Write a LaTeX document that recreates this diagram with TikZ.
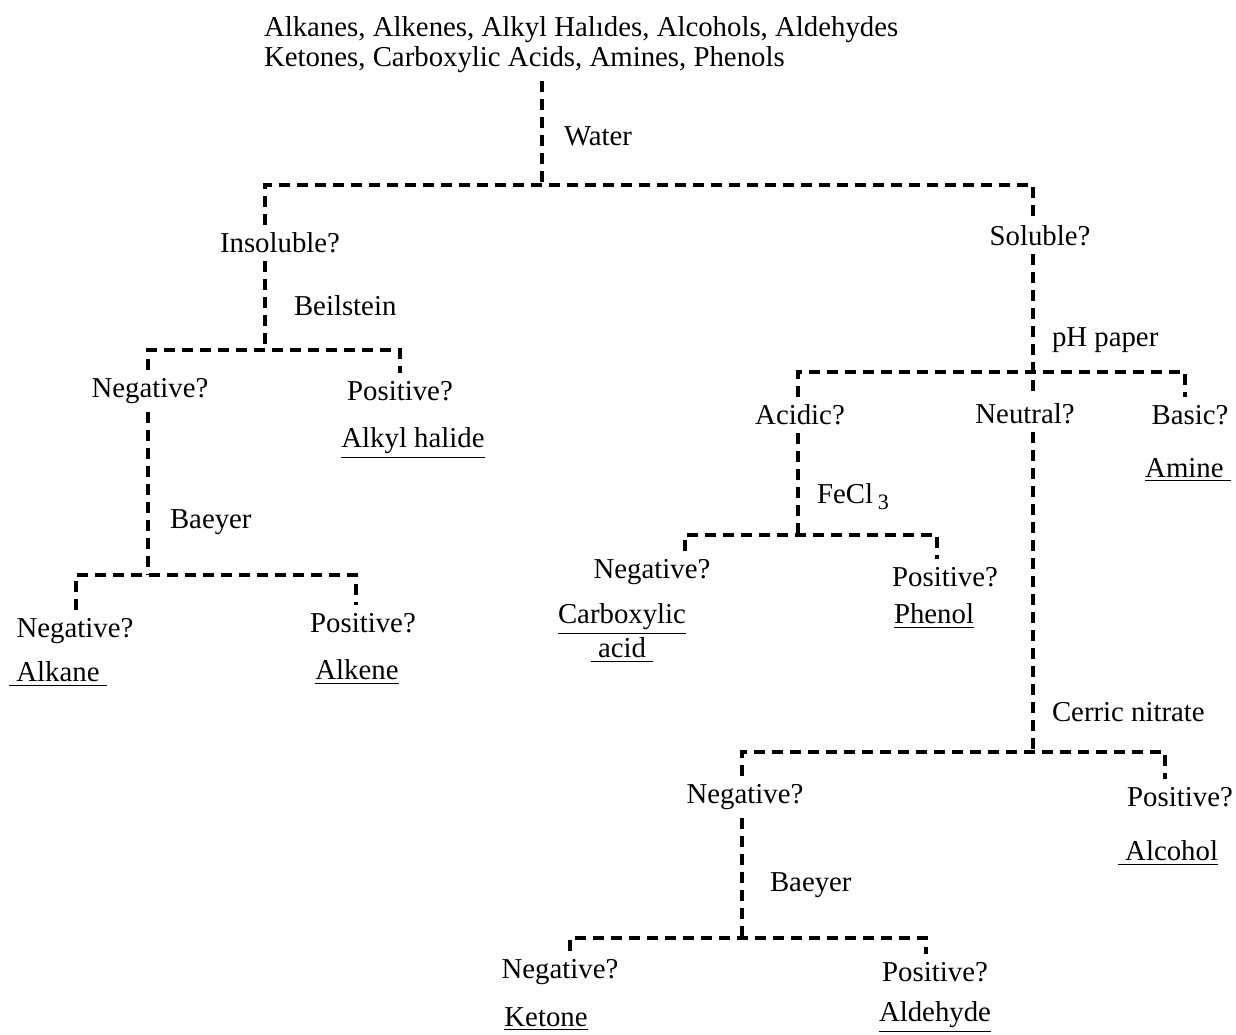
\documentclass[tikz,border=0pt]{standalone}
\usepackage{fontspec}
\setmainfont{Liberation Serif}
\usepackage{tikz}

\tikzset{
  dl/.style={line width=1.6pt, dash pattern=on 5.5pt off 3.5pt},
  lbl/.style={font=\fontsize{14.4}{15}\selectfont, inner sep=0pt, outer sep=4pt},
  test/.style={lbl, anchor=west},
}

\begin{document}
\begin{tikzpicture}[x=0.5pt,y=0.5pt]
\useasboundingbox (0,0) rectangle (1236,-1034);
% starting mixture
\node[lbl, anchor=north west, align=left] (mix) at (256,-9)
  {Alkanes, Alkenes, Alkyl Halıdes, Alcohols, Aldehydes\\Ketones, Carboxylic Acids, Amines, Phenols};
% junctions
\coordinate (w) at (542,-185);   \coordinate (wl) at (265,-185);  \coordinate (wr) at (1033,-185);
\coordinate (b) at (265,-350);   \coordinate (bl) at (148,-350);  \coordinate (br) at (400,-350);
\coordinate (y1) at (148,-575);  \coordinate (y1l) at (76,-575);  \coordinate (y1r) at (356,-575);
\coordinate (p) at (1033,-372);  \coordinate (pl) at (798,-372);  \coordinate (pr) at (1185,-372);
\coordinate (f) at (798,-535);   \coordinate (fl) at (685,-535);  \coordinate (fr) at (937,-535);
\coordinate (c) at (1033,-752);  \coordinate (cl) at (742,-752);  \coordinate (cr) at (1165,-752);
\coordinate (y2) at (742,-938);  \coordinate (y2l) at (570,-938); \coordinate (y2r) at (926,-938);

% tests
\node[test] (water) at (556,-136) {Water};
\node[test] (beil) at (286,-306) {Beilstein};
\node[test] (baey1) at (162,-522) {Baeyer};
\node[test] (ph) at (1044,-340) {pH paper};
\node[test] (fecl) at (809,-497) {FeCl\,\raisebox{-0.45ex}{\fontsize{11}{12}\selectfont 3}};
\node[test] (cer) at (1044,-712) {Cerric nitrate};
\node[test] (baey2) at (762,-885) {Baeyer};

% outcomes
\node[lbl] (insol) at (280,-243) {Insoluble?};
\node[lbl] (sol) at (1040,-236) {Soluble?};
\node[lbl] (neg1) at (150,-391) {Negative?};
\node[lbl] (pos1) at (400,-391) {Positive?};
\node[lbl] (halide) at (413,-443) {\underline{Alkyl halide}};
\node[lbl] (neg2) at (75,-631) {Negative?};
\node[lbl] (pos2) at (363,-623) {Positive?};
\node[lbl] (alkane) at (58,-674) {\underline{\ Alkane\ }};
\node[lbl] (alkene) at (357,-672) {\underline{Alkene}};
\node[lbl] (acidic) at (800,-415) {Acidic?};
\node[lbl] (neut) at (1025,-414) {Neutral?};
\node[lbl] (basic) at (1190,-415) {Basic?};
\node[lbl] (amine) at (1188,-470) {\underline{Amine\ }};
\node[lbl] (neg3) at (652,-572) {Negative?};
\node[lbl] (pos3) at (945,-577) {Positive?};
\node[lbl] (carb) at (622,-619) {\underline{Carboxylic}};
\node[lbl] (acid) at (622,-650) {\underline{\ acid\ }};
\node[lbl] (phenol) at (934,-616) {\underline{Phenol}};
\node[lbl] (neg4) at (745,-797) {Negative?};
\node[lbl] (pos4) at (1180,-797) {Positive?};
\node[lbl] (alcohol) at (1168,-853) {\underline{\ Alcohol}};
\node[lbl] (neg5) at (560,-972) {Negative?};
\node[lbl] (pos5) at (935,-972) {Positive?};
\node[lbl] (ketone) at (546,-1019) {\underline{Ketone}};
\node[lbl] (aldehyde) at (935,-1017) {\underline{Aldehyde}};

% dashed tree
\draw[dl] (mix.south -| w) -- (w);
\draw[dl] (insol.north -| wl) -- (wl) -- (wr) -- (sol.north -| wr);
\draw[dl] (insol.south -| b) -- (b);
\draw[dl] (neg1.north -| bl) -- (bl) -- (br) -- (pos1.north -| br);
\draw[dl] (neg1.south -| y1) -- (y1);
\draw[dl] (neg2.north -| y1l) -- (y1l) -- (y1r) -- (pos2.north -| y1r);
\draw[dl] (sol.south -| p) -- (p) -- (neut.north -| p);
\draw[dl] (acidic.north -| pl) -- (pl) -- (pr) -- (basic.north -| pr);
\draw[dl] (acidic.south -| f) -- (f);
\draw[dl] (neg3.north -| fl) -- (fl) -- (fr) -- (pos3.north -| fr);
\draw[dl] (neut.south -| c) -- (c);
\draw[dl] (neg4.north -| cl) -- (cl) -- (cr) -- (pos4.north -| cr);
\draw[dl] (neg4.south -| y2) -- (y2);
\draw[dl] (neg5.north -| y2l) -- (y2l) -- (y2r) -- (pos5.north -| y2r);
\end{tikzpicture}
\end{document}
